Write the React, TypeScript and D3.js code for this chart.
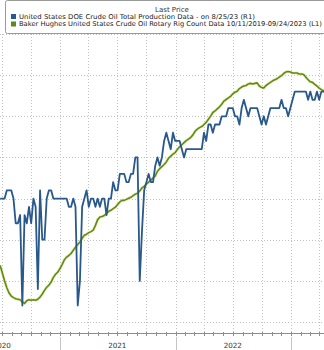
import React from "react";
import * as d3 from "d3";

// Weekly observations starting Friday 26 Jun 2020
const startDate = Date.UTC(2020, 5, 26);

// United States DOE Crude Oil Total Production (million b/d) – right axis (R1)
const production = [
  11.0, 11.0, 11.0, 11.1, 11.1, 11.1, 11.0, 10.7, 10.7, 10.8,
  9.7, 10.8, 10.7, 10.9, 10.7, 11.0, 10.9, 9.9, 11.1, 10.5,
  10.5, 11.0, 11.1, 11.1, 11.0, 11.0, 11.0, 11.0, 11.0, 11.0,
  11.0, 10.9, 10.9, 11.0, 10.9, 9.7, 10.0, 10.9, 11.0, 11.1,
  10.9, 11.0, 11.0, 10.9, 11.0, 10.9, 11.0, 11.0, 10.8, 11.0,
  11.0, 11.2, 11.1, 11.1, 11.3, 11.3, 11.3, 11.2, 11.2, 11.3,
  11.3, 11.5, 11.5, 10.0, 10.6, 11.1, 11.2, 11.3, 11.2, 11.2,
  11.4, 11.5, 11.4, 11.5, 11.7, 11.8, 11.7, 11.6, 11.8, 11.7,
  11.7, 11.7, 11.6, 11.5, 11.6, 11.6, 11.6, 11.6, 11.6, 11.6,
  11.6, 11.6, 11.8, 11.7, 11.9, 11.9, 11.8, 11.9, 11.9, 11.9,
  12.0, 12.0, 12.0, 12.1, 12.1, 12.1, 12.0, 12.0, 11.9, 12.1,
  12.2, 12.1, 12.0, 12.1, 12.1, 12.1, 12.1, 12.0, 11.9, 12.0,
  11.9, 12.0, 12.1, 12.1, 12.1, 12.1, 12.1, 12.2, 12.1, 12.1,
  12.0, 12.1, 12.2, 12.3, 12.3, 12.3, 12.3, 12.3, 12.3, 12.2,
  12.3, 12.2, 12.2, 12.3, 12.2, 12.3, 12.3, 12.3,
];

// Baker Hughes US Crude Oil Rotary Rig Count – left axis (L1)
const rigCount = [
  255, 240, 225, 212, 202, 196, 193, 191, 190, 189,
  185, 182, 187, 189, 188, 189, 188, 190, 194, 200,
  207, 213, 217, 223, 232, 238, 242, 249, 257, 266,
  271, 274, 278, 284, 290, 295, 300, 307, 313, 315,
  318, 320, 323, 332, 343, 348, 349, 351, 355, 359,
  361, 364, 367, 372, 377, 380, 380, 382, 384, 386,
  389, 392, 394, 398, 404, 407, 411, 415, 419, 423,
  427, 436, 441, 445, 449, 454, 461, 465, 469, 472,
  478, 483, 487, 491, 495, 498, 501, 506, 513, 517,
  520, 522, 526, 530, 536, 542, 549, 552, 556, 560,
  565, 571, 574, 577, 580, 585, 588, 590, 595, 598,
  600, 601, 604, 605, 604, 605, 606, 600, 597, 596,
  601, 604, 607, 610, 612, 614, 617, 620, 624, 627,
  628, 627, 625, 625, 625, 623, 623, 622, 617, 612,
  608, 607, 603, 600, 596, 593, 591, 590,
];

const yearLabels = ["2020", "2021", "2022"];
const rightTicks = [9.5, 10, 10.5, 11, 11.5, 12, 12.5, 13];
const legendTitle = "Last Price";
const legendItems = [
  "United States DOE Crude Oil Total Production Data -  on 8/25/23  (R1)",
  "Baker Hughes United States Crude Oil Rotary Rig Count Data 10/11/2019-09/24/2023  (L1)",
];

const W = 324;
const H = 350;
const BLUE = "#28588c";
const GREEN = "#62881a";

export default function App() {
  const dates = production.map((_, i) => new Date(startDate + i * 7 * 86400000));

  const x = d3
    .scaleUtc()
    .domain([new Date(Date.UTC(2021, 0, 1)), new Date(Date.UTC(2023, 0, 1))])
    .range([60, 291]);
  const yR = d3.scaleLinear().domain([9.5, 13]).range([322, 34]);
  const yL = d3.scaleLinear().domain([150, 650]).range([320, 60]);

  const xStart = x.invert(-20);
  const xEnd = x.invert(W + 20);

  const quarters = d3.utcMonth.every(3)!.range(xStart, xEnd);
  const months = d3.utcMonth.range(xStart, xEnd);
  const yearStarts = d3.utcYear.range(xStart, xEnd);

  const lineBlue = d3
    .line<number>()
    .x((_, i) => x(dates[i]))
    .y((d) => yR(d));
  const lineGreen = d3
    .line<number>()
    .x((_, i) => x(dates[i]))
    .y((d) => yL(d));

  const axisY = 333;
  const gridTop = 34;

  return (
    <div style={{ position: "absolute", left: 0, top: 0, width: W, height: H, background: "#fff" }}>
      <svg width={W} height={H} style={{ display: "block", fontFamily: "'DejaVu Sans', Tahoma, sans-serif" }}>
        <rect x={0} y={0} width={W} height={H} fill="#fff" />
        {/* vertical gridlines (quarters) */}
        {quarters.map((q) => (
          <line
            key={"vq" + q.getTime()}
            x1={Math.round(x(q)) + 0.5}
            x2={Math.round(x(q)) + 0.5}
            y1={gridTop}
            y2={axisY}
            stroke="#c2c2c2"
            strokeWidth={1}
            strokeDasharray="1,2"
          />
        ))}
        {/* horizontal gridlines */}
        {rightTicks.map((t) => (
          <line
            key={"h" + t}
            x1={0}
            x2={W}
            y1={Math.round(yR(t)) + 0.5}
            y2={Math.round(yR(t)) + 0.5}
            stroke="#c2c2c2"
            strokeWidth={1}
            strokeDasharray="1,2"
          />
        ))}
        {/* series */}
        <path d={lineGreen(rigCount) || ""} fill="none" stroke="#d9e88a" strokeWidth={3.2} strokeOpacity={0.55} strokeLinejoin="round" />
        <path d={lineGreen(rigCount) || ""} fill="none" stroke={GREEN} strokeWidth={1.6} strokeLinejoin="round" />
        <path d={lineBlue(production) || ""} fill="none" stroke={BLUE} strokeWidth={1.8} strokeLinejoin="round" />
        {/* x axis */}
        <line x1={0} x2={W} y1={axisY + 0.5} y2={axisY + 0.5} stroke="#8a8f94" strokeWidth={1} />
        {months.map((m) => (
          <line
            key={"m" + m.getTime()}
            x1={Math.round(x(m)) + 0.5}
            x2={Math.round(x(m)) + 0.5}
            y1={axisY - 1}
            y2={axisY + 3}
            stroke="#8a8f94"
            strokeWidth={1}
          />
        ))}
        {yearStarts.map((ys) => (
          <line
            key={"y" + ys.getTime()}
            x1={Math.round(x(ys)) + 0.5}
            x2={Math.round(x(ys)) + 0.5}
            y1={axisY + 4}
            y2={H}
            stroke="#c4c4c4"
            strokeWidth={1}
          />
        ))}
        {yearLabels.map((label) => {
          const mid = new Date(Date.UTC(+label, 6, 1));
          return (
            <text key={label} x={x(mid)} y={348} fontSize={7.2} fill="#333" textAnchor="middle">
              {label}
            </text>
          );
        })}
        {/* legend */}
        <rect x={5.5} y={0.5} width={W + 10} height={33} rx={2} fill="#fff" stroke="#9a9a9a" strokeWidth={1} />
        <text x={172} y={11.5} fontSize={7} fill="#333" textAnchor="middle">
          {legendTitle}
        </text>
        <rect x={11} y={14} width={5} height={5} fill={BLUE} />
        <rect x={11} y={21.5} width={5} height={5} fill={GREEN} />
        <text x={19} y={18.8} fontSize={6.6} fill="#222" textLength={236} lengthAdjust="spacingAndGlyphs">
          {legendItems[0]}
        </text>
        <text x={19} y={26.3} fontSize={6.6} fill="#222" textLength={303} lengthAdjust="spacingAndGlyphs">
          {legendItems[1]}
        </text>
      </svg>
    </div>
  );
}
